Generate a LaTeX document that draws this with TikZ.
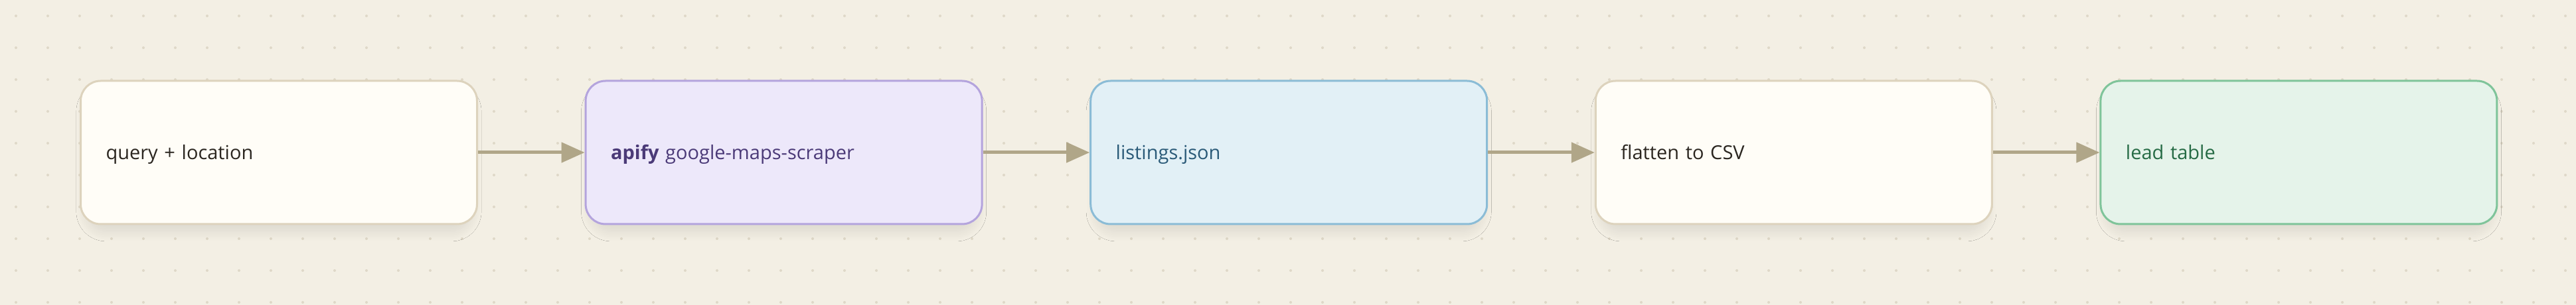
\documentclass[tikz,border=0pt]{standalone}
\usepackage{fontspec}
\setmainfont{Open Sans}
\usetikzlibrary{positioning,arrows.meta,shadows.blur}
\definecolor{paper}{HTML}{F3EFE4}
\definecolor{dotc}{HTML}{DFD8C8}
\definecolor{arrowc}{HTML}{B0A688}
\definecolor{creamfill}{HTML}{FFFDF7}
\definecolor{creamline}{HTML}{DDD3BD}
\definecolor{purpfill}{HTML}{EDE8FA}
\definecolor{purpline}{HTML}{B4A4DD}
\definecolor{purptext}{HTML}{4B3A78}
\definecolor{bluefill}{HTML}{E2F0F6}
\definecolor{blueline}{HTML}{8BBCD6}
\definecolor{bluetext}{HTML}{2A5A78}
\definecolor{greenfill}{HTML}{E5F3EA}
\definecolor{greenline}{HTML}{7FC49A}
\definecolor{greentext}{HTML}{266B45}
\definecolor{inktext}{HTML}{2B2620}
\tikzset{
	stage/.style={draw, line width=1.5pt, rounded corners=15pt, minimum height=108pt,
		text width=260.5pt, text height=11pt, text depth=0pt, align=left, inner xsep=19pt,
		font=\fontsize{14.5}{17}\selectfont,
		blur shadow={shadow xshift=0pt, shadow yshift=-7pt, shadow scale=0.97, shadow blur radius=8pt, shadow blur steps=24, shadow opacity=10}},
	plain/.style={stage, fill=creamfill, draw=creamline, text=inktext},
	flow/.style={-{Triangle[length=17.5pt,width=15pt]}, line width=2.5pt, arrowc},
}
\begin{document}
\begin{tikzpicture}[x=1pt,y=1pt]
	\fill[paper] (0,0) rectangle (1940,230);
	\useasboundingbox (0,0) rectangle (1940,230);
	\foreach \x in {0,...,80}
	\foreach \y in {0,...,9}
	{
		\fill[dotc] (12+24*\x,218-24*\y) circle (1pt);
	}
	\node[plain] (query) at (210,115) {query + location};
	\node[stage, fill=purpfill, draw=purpline, text=purptext, right=80.3pt of query] (apify) {\textbf{apify} google-maps-scraper};
	\node[stage, fill=bluefill, draw=blueline, text=bluetext, right=80.3pt of apify] (listings) {listings.json};
	\node[plain, right=80.3pt of listings] (flatten) {flatten to CSV};
	\node[stage, fill=greenfill, draw=greenline, text=greentext, right=80.3pt of flatten] (leads) {lead table};
	\draw[flow] (query) -- (apify);
	\draw[flow] (apify) -- (listings);
	\draw[flow] (listings) -- (flatten);
	\draw[flow] (flatten) -- (leads);
\end{tikzpicture}
\end{document}
